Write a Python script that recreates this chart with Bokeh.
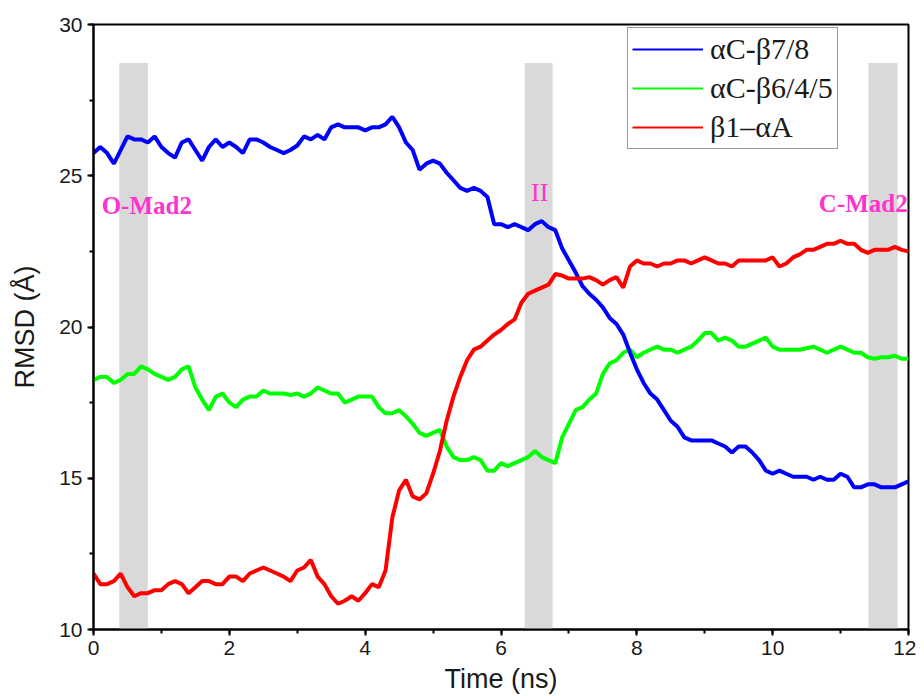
from bokeh.plotting import figure
from bokeh.models import Range1d, SingleIntervalTicker, Legend, LegendItem, Label, ColumnDataSource
from bokeh.embed import file_html
from bokeh.resources import INLINE

# ---- data ----
time_ns = [0.0, 0.1, 0.2, 0.3, 0.4, 0.5, 0.6, 0.7, 0.8, 0.9,
           1.0, 1.1, 1.2, 1.3, 1.4, 1.5, 1.6, 1.7, 1.8, 1.9,
           2.0, 2.1, 2.2, 2.3, 2.4, 2.5, 2.6, 2.7, 2.8, 2.9,
           3.0, 3.1, 3.2, 3.3, 3.4, 3.5, 3.6, 3.7, 3.8, 3.9,
           4.0, 4.1, 4.2, 4.3, 4.4, 4.5, 4.6, 4.7, 4.8, 4.9,
           5.0, 5.1, 5.2, 5.3, 5.4, 5.5, 5.6, 5.7, 5.8, 5.9,
           6.0, 6.1, 6.2, 6.3, 6.4, 6.5, 6.6, 6.7, 6.8, 6.9,
           7.0, 7.1, 7.2, 7.3, 7.4, 7.5, 7.6, 7.7, 7.8, 7.9,
           8.0, 8.1, 8.2, 8.3, 8.4, 8.5, 8.6, 8.7, 8.8, 8.9,
           9.0, 9.1, 9.2, 9.3, 9.4, 9.5, 9.6, 9.7, 9.8, 9.9,
           10.0, 10.1, 10.2, 10.3, 10.4, 10.5, 10.6, 10.7, 10.8, 10.9,
           11.0, 11.1, 11.2, 11.3, 11.4, 11.5, 11.6, 11.7, 11.8, 11.9,
           12.0]

ac_b78 = [25.75, 25.95, 25.75, 25.4, 25.85, 26.3, 26.2, 26.2, 26.1, 26.3,
          25.95, 25.75, 25.6, 26.1, 26.2, 25.85, 25.5, 25.95, 26.2, 25.95,
          26.1, 25.95, 25.75, 26.2, 26.2, 26.1, 25.95, 25.85, 25.75, 25.85,
          26.0, 26.3, 26.2, 26.35, 26.2, 26.6, 26.7, 26.6, 26.6, 26.6,
          26.5, 26.6, 26.6, 26.7, 26.95, 26.6, 26.1, 25.85, 25.2, 25.4,
          25.5, 25.4, 25.1, 24.85, 24.6, 24.5, 24.6, 24.5, 24.3, 23.4,
          23.4, 23.3, 23.4, 23.3, 23.2, 23.4, 23.5, 23.3, 23.2, 22.6,
          22.2, 21.8, 21.35, 21.1, 20.9, 20.65, 20.3, 20.1, 19.75, 19.15,
          18.6, 18.15, 17.8, 17.6, 17.25, 16.9, 16.7, 16.35, 16.25, 16.25,
          16.25, 16.25, 16.15, 16.05, 15.85, 16.05, 16.05, 15.85, 15.6, 15.25,
          15.15, 15.25, 15.15, 15.05, 15.05, 15.05, 14.95, 15.05, 14.95, 14.95,
          15.15, 15.05, 14.7, 14.7, 14.8, 14.8, 14.7, 14.7, 14.7, 14.8,
          14.9]

ac_b645 = [18.25, 18.35, 18.35, 18.15, 18.25, 18.45, 18.45, 18.7, 18.6, 18.45,
           18.35, 18.25, 18.35, 18.6, 18.7, 18.0, 17.6, 17.25, 17.7, 17.8,
           17.5, 17.35, 17.6, 17.7, 17.7, 17.9, 17.8, 17.8, 17.8, 17.75,
           17.8, 17.7, 17.8, 18.0, 17.9, 17.8, 17.8, 17.5, 17.6, 17.7,
           17.7, 17.7, 17.35, 17.15, 17.15, 17.25, 17.05, 16.8, 16.5, 16.4,
           16.5, 16.6, 16.05, 15.7, 15.6, 15.6, 15.7, 15.6, 15.25, 15.25,
           15.5, 15.4, 15.5, 15.6, 15.7, 15.9, 15.7, 15.6, 15.5, 16.35,
           16.8, 17.25, 17.35, 17.6, 17.8, 18.45, 18.8, 18.9, 19.15, 19.25,
           19.0, 19.15, 19.25, 19.35, 19.25, 19.25, 19.15, 19.25, 19.35, 19.55,
           19.8, 19.8, 19.55, 19.65, 19.55, 19.35, 19.35, 19.45, 19.55, 19.65,
           19.35, 19.25, 19.25, 19.25, 19.25, 19.3, 19.35, 19.25, 19.15, 19.25,
           19.35, 19.25, 19.15, 19.15, 19.0, 18.95, 19.0, 19.0, 19.05, 18.95,
           18.95]

b1_aA = [11.85, 11.5, 11.5, 11.6, 11.85, 11.4, 11.1, 11.2, 11.2, 11.3,
         11.3, 11.5, 11.6, 11.5, 11.2, 11.4, 11.6, 11.6, 11.5, 11.5,
         11.75, 11.75, 11.6, 11.85, 11.95, 12.05, 11.95, 11.85, 11.75, 11.6,
         11.95, 12.05, 12.3, 11.75, 11.5, 11.1, 10.85, 10.95, 11.1, 10.95,
         11.2, 11.5, 11.4, 11.95, 13.7, 14.6, 14.95, 14.4, 14.3, 14.5,
         15.15, 15.9, 16.9, 17.7, 18.35, 18.9, 19.25, 19.35, 19.55, 19.75,
         19.9, 20.1, 20.25, 20.8, 21.1, 21.2, 21.3, 21.4, 21.75, 21.7,
         21.6, 21.6, 21.6, 21.65, 21.55, 21.4, 21.55, 21.65, 21.3, 22.0,
         22.2, 22.1, 22.1, 22.0, 22.1, 22.1, 22.2, 22.2, 22.1, 22.2,
         22.3, 22.2, 22.1, 22.1, 22.0, 22.2, 22.2, 22.2, 22.2, 22.2,
         22.3, 22.0, 22.1, 22.3, 22.4, 22.55, 22.55, 22.65, 22.75, 22.75,
         22.85, 22.75, 22.75, 22.55, 22.45, 22.55, 22.55, 22.55, 22.65, 22.55,
         22.5]

series_names = ["\u03b1C-\u03b27/8", "\u03b1C-\u03b26/4/5", "\u03b21\u2013\u03b1A"]
series_colors = ["#0000ff", "#00ff00", "#ff0000"]

band_start = [0.38, 6.35, 11.41]
band_end = [0.80, 6.76, 11.84]
band_bottom = [10, 10, 10]
band_top = [28.73, 28.73, 28.73]

state_text = ["O-Mad2", "II", "C-Mad2"]
state_x = [0.12, 6.57, 10.68]
state_y = [24.03, 24.46, 24.07]

x_ticks_interval = 2
y_ticks_interval = 5

# ---- figure ----
p = figure(width=916, height=696,
           x_range=Range1d(0, 12), y_range=Range1d(10, 30),
           output_backend="svg", toolbar_location=None,
           min_border_left=93, min_border_right=8,
           min_border_top=24, min_border_bottom=66)

p.background_fill_color = "white"
p.border_fill_color = "white"
p.xgrid.visible = False
p.ygrid.visible = False
p.outline_line_color = "black"
p.outline_line_width = 2

p.xaxis.ticker = SingleIntervalTicker(interval=x_ticks_interval, num_minor_ticks=2)
p.yaxis.ticker = SingleIntervalTicker(interval=y_ticks_interval, num_minor_ticks=2)

for ax in (p.xaxis, p.yaxis):
    ax.axis_line_color = "black"
    ax.axis_line_width = 2
    ax.major_tick_line_color = "black"
    ax.major_tick_line_width = 2
    ax.minor_tick_line_color = "black"
    ax.minor_tick_line_width = 2
    ax.major_tick_in = 0
    ax.major_tick_out = 6
    ax.minor_tick_in = 0
    ax.minor_tick_out = 4
    ax.major_label_text_font = "Liberation Sans"
    ax.major_label_text_font_size = "21px"
    ax.major_label_text_color = "#1a1a1a"
    ax.axis_label_text_font = "Liberation Sans"
    ax.axis_label_text_font_style = "normal"
    ax.axis_label_text_font_size = "27px"
    ax.axis_label_text_color = "#1a1a1a"
    ax.major_label_standoff = 5

p.xaxis.axis_label = "Time (ns)"
p.yaxis.axis_label = "RMSD (\u00c5)"
p.xaxis.axis_label_standoff = 6
p.yaxis.axis_label_standoff = 16

# gray bands
bands = ColumnDataSource(dict(left=band_start, right=band_end, bottom=band_bottom, top=band_top))
p.quad(left="left", right="right", bottom="bottom", top="top", source=bands,
       fill_color="#d9d9d9", line_color=None)

# series
src = ColumnDataSource(dict(t=time_ns, blue=ac_b78, green=ac_b645, red=b1_aA))
# thin copies (hidden under the thick lines) that give the legend its 2px samples
k_blue = p.line("t", "blue", source=src, line_color=series_colors[0], line_width=2)
k_green = p.line("t", "green", source=src, line_color=series_colors[1], line_width=2)
k_red = p.line("t", "red", source=src, line_color=series_colors[2], line_width=2)
r_green = p.line("t", "green", source=src, line_color=series_colors[1], line_width=4)
r_blue = p.line("t", "blue", source=src, line_color=series_colors[0], line_width=4)
r_red = p.line("t", "red", source=src, line_color=series_colors[2], line_width=4)

legend = Legend(items=[LegendItem(label=series_names[0], renderers=[k_blue]),
                       LegendItem(label=series_names[1], renderers=[k_green]),
                       LegendItem(label=series_names[2], renderers=[k_red])],
                location=(534, 480))
legend.label_text_font = "Liberation Serif"
legend.label_text_font_size = "30px"
legend.label_text_color = "#1a1a1a"
legend.glyph_width = 71
legend.glyph_height = 34
legend.label_height = 34
legend.label_standoff = 7
legend.padding = 4
legend.spacing = 5
legend.margin = 0
legend.border_line_color = "#333333"
legend.border_line_width = 1.5
legend.background_fill_alpha = 1
p.add_layout(legend, "center")

# state labels
for i, txt in enumerate(state_text):
    bold = txt != "II"
    lab = Label(x=state_x[i], y=state_y[i], text=txt,
                text_font="Liberation Serif",
                text_font_size="25px" if bold else "26px",
                text_font_style="bold" if bold else "normal",
                text_color="#ff33cc",
                text_align="left" if bold else "center",
                text_baseline="alphabetic")
    p.add_layout(lab)

open("out.html", "w").write(file_html(p, INLINE))
